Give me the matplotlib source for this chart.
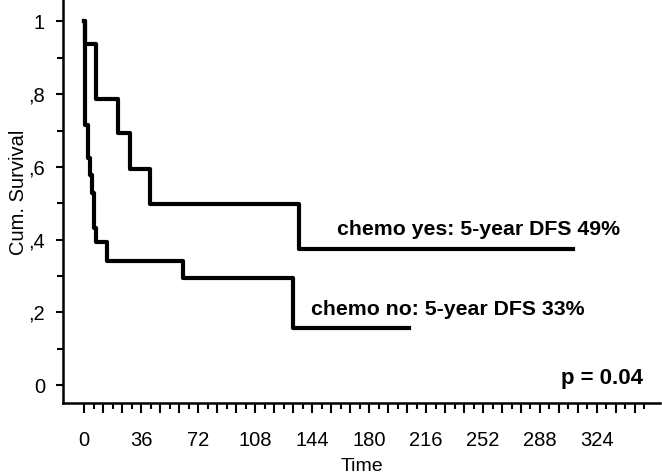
import matplotlib
matplotlib.use("Agg")
import matplotlib.pyplot as plt
from matplotlib.ticker import FixedLocator, FuncFormatter

plt.rcParams['font.family'] = ['Liberation Sans', 'DejaVu Sans']

# Data
yes_times = [0, 0.6, 7.6, 21.6, 29.0, 41.7, 135.8, 308.8]
yes_surv = [1.0, 0.937, 0.788, 0.692, 0.593, 0.497, 0.374, 0.374]

no_times = [0, 0.6, 2.7, 3.6, 4.8, 6.3, 7.6, 14.8, 62.7, 132.2, 205.0]
no_surv = [1.0, 0.715, 0.624, 0.578, 0.529, 0.431, 0.394, 0.341, 0.293, 0.158, 0.158]

x_labels = [0, 36, 72, 108, 144, 180, 216, 252, 288, 324]
y_major = [0, 0.2, 0.4, 0.6, 0.8, 1.0]
y_labels = ["0", ",2", ",4", ",6", ",8", "1"]

label_yes = "chemo yes: 5-year DFS 49%"
label_no = "chemo no: 5-year DFS 33%"
p_text = "p = 0.04"

fig = plt.figure(figsize=(6.62, 4.75), dpi=100)
ax = fig.add_axes([63 / 662, 1 - 403 / 475, 597 / 662, 403 / 475])

ax.plot(yes_times, yes_surv, drawstyle='steps-post', color='black', lw=3.0)
ax.plot(no_times, no_surv, drawstyle='steps-post', color='black', lw=3.0)

ax.set_xlim(-13.3, 363.8)
ax.set_ylim(-0.0495, 1.059)

for s in ['top', 'right']:
    ax.spines[s].set_visible(False)
for s in ['left', 'bottom']:
    ax.spines[s].set_linewidth(1.8)

# x ticks: long every 12, short at the 6 offsets; labels every 36
ax.xaxis.set_major_locator(FixedLocator(list(range(0, 349, 12))))
ax.xaxis.set_minor_locator(FixedLocator(list(range(6, 355, 12))))
ax.xaxis.set_major_formatter(FuncFormatter(lambda v, p: f"{int(round(v))}" if int(round(v)) in x_labels else ""))
ax.tick_params(axis='x', which='major', length=7, width=1.5, pad=13, labelsize=14.5)
ax.tick_params(axis='x', which='minor', length=4, width=1.5)

ax.yaxis.set_major_locator(FixedLocator(y_major))
ax.yaxis.set_minor_locator(FixedLocator([0.1, 0.3, 0.5, 0.7, 0.9]))
ax.set_yticklabels(y_labels)
ax.tick_params(axis='y', which='major', length=5, width=1.5, pad=8, labelsize=14.5)
ax.tick_params(axis='y', which='minor', length=4, width=1.5)

ax.set_xlabel("Time", fontsize=14)
ax.xaxis.set_label_coords(0.5, -0.136)
ax.xaxis.label.set_va('top')
ax.set_ylabel("Cum. Survival", fontsize=14.5)
ax.yaxis.set_label_coords(-0.058, 0.522)

ax.text(159.6, 0.413, label_yes, fontsize=15.3, fontweight='bold', ha='left', va='baseline')
ax.text(143.2, 0.193, label_no, fontsize=15.3, fontweight='bold', ha='left', va='baseline')
ax.text(352.8, 0.003, p_text, fontsize=16, fontweight='bold', ha='right', va='baseline')

fig.savefig("out.png", dpi=100)
